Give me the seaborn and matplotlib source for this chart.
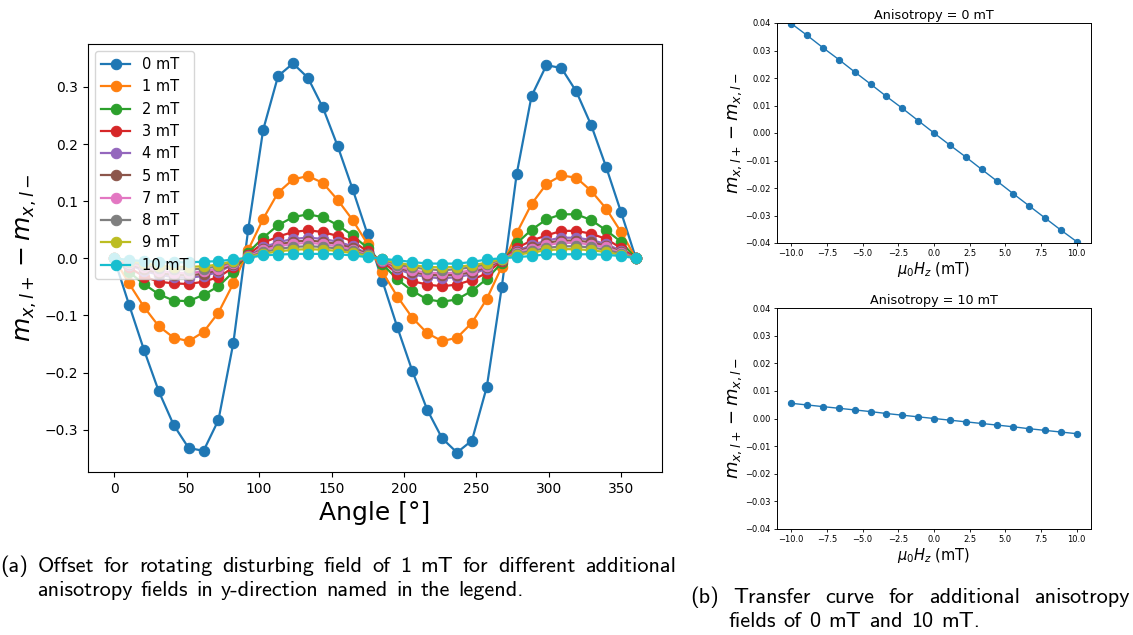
import numpy as np
import pandas as pd
import matplotlib
matplotlib.use("Agg")
import matplotlib.pyplot as plt
import seaborn as sns

# ---------------------------------------------------------------- data
# rotation angle of the 1 mT disturbing field (36 steps, 0..360 deg)
angles = np.linspace(0, 360, 36)

field_labels = ["0 mT", "1 mT", "2 mT", "3 mT", "4 mT",
                "5 mT", "7 mT", "8 mT", "9 mT", "10 mT"]

offset_0mT = [0.000, -0.081, -0.160, -0.233, -0.292, -0.332, -0.337, -0.283, -0.148,
              0.051, 0.225, 0.319, 0.341, 0.316, 0.264, 0.196, 0.121, 0.042,
              -0.040, -0.121, -0.197, -0.265, -0.315, -0.340, -0.319, -0.225, -0.051,
              0.147, 0.284, 0.338, 0.333, 0.292, 0.233, 0.160, 0.081, 0.000]
offset_1mT = [0.000, -0.044, -0.085, -0.119, -0.139, -0.145, -0.129, -0.095, -0.044,
              0.015, 0.069, 0.115, 0.138, 0.144, 0.132, 0.102, 0.067, 0.025,
              -0.024, -0.067, -0.104, -0.131, -0.145, -0.139, -0.113, -0.071, -0.015,
              0.044, 0.095, 0.130, 0.145, 0.141, 0.118, 0.087, 0.046, 0.000]
offset_2mT = [0.000, -0.024, -0.045, -0.063, -0.074, -0.075, -0.064, -0.049, -0.024,
              0.010, 0.036, 0.058, 0.072, 0.077, 0.072, 0.058, 0.040, 0.018,
              -0.010, -0.037, -0.057, -0.072, -0.076, -0.072, -0.057, -0.036, -0.008,
              0.026, 0.050, 0.068, 0.077, 0.077, 0.067, 0.049, 0.029, 0.000]
offset_3mT = [0.000, -0.016, -0.032, -0.041, -0.044, -0.045, -0.041, -0.033, -0.016,
              0.006, 0.027, 0.038, 0.046, 0.049, 0.046, 0.039, 0.030, 0.012,
              -0.006, -0.027, -0.040, -0.046, -0.049, -0.046, -0.038, -0.026, -0.004,
              0.018, 0.031, 0.040, 0.048, 0.048, 0.043, 0.034, 0.018, 0.000]
offset_4mT = [0.000, -0.011, -0.022, -0.029, -0.033, -0.034, -0.031, -0.024, -0.011,
              0.004, 0.019, 0.028, 0.034, 0.036, 0.034, 0.029, 0.021, 0.008,
              -0.004, -0.019, -0.028, -0.033, -0.035, -0.033, -0.028, -0.018, -0.003,
              0.013, 0.023, 0.031, 0.036, 0.036, 0.032, 0.025, 0.013, 0.000]
offset_5mT = [0.000, -0.010, -0.019, -0.026, -0.029, -0.030, -0.027, -0.021, -0.010,
              0.003, 0.016, 0.024, 0.029, 0.031, 0.029, 0.025, 0.018, 0.007,
              -0.003, -0.016, -0.024, -0.029, -0.030, -0.029, -0.024, -0.016, -0.003,
              0.011, 0.020, 0.027, 0.031, 0.031, 0.028, 0.022, 0.011, 0.000]
offset_7mT = [0.000, -0.008, -0.016, -0.022, -0.025, -0.026, -0.023, -0.018, -0.008,
              0.003, 0.014, 0.021, 0.025, 0.027, 0.025, 0.021, 0.015, 0.006,
              -0.003, -0.014, -0.021, -0.025, -0.026, -0.025, -0.021, -0.013, -0.002,
              0.010, 0.017, 0.023, 0.027, 0.027, 0.024, 0.019, 0.010, 0.000]
offset_8mT = [0.000, -0.006, -0.012, -0.017, -0.019, -0.020, -0.018, -0.014, -0.006,
              0.002, 0.011, 0.016, 0.020, 0.021, 0.020, 0.017, 0.012, 0.005,
              -0.002, -0.011, -0.016, -0.019, -0.021, -0.019, -0.016, -0.010, -0.002,
              0.008, 0.013, 0.018, 0.021, 0.021, 0.019, 0.015, 0.008, 0.000]
offset_9mT = [0.000, -0.005, -0.009, -0.013, -0.015, -0.015, -0.014, -0.011, -0.005,
              0.002, 0.008, 0.012, 0.015, 0.016, 0.015, 0.013, 0.009, 0.004,
              -0.002, -0.008, -0.012, -0.015, -0.016, -0.015, -0.012, -0.008, -0.001,
              0.006, 0.010, 0.014, 0.016, 0.016, 0.014, 0.011, 0.006, 0.000]
offset_10mT = [0.000, -0.003, -0.005, -0.006, -0.007, -0.007, -0.006, -0.005, -0.002,
               0.001, 0.005, 0.0065, 0.0075, 0.0078, 0.0076, 0.007, 0.005, 0.002,
               -0.001, -0.0035, -0.0065, -0.0092, -0.0093, -0.0093, -0.0065, -0.002, 0.000,
               0.002, 0.004, 0.007, 0.007, 0.007, 0.007, 0.006, 0.004, 0.000]

offsets = [offset_0mT, offset_1mT, offset_2mT, offset_3mT, offset_4mT,
           offset_5mT, offset_7mT, offset_8mT, offset_9mT, offset_10mT]

# transfer curves: out-of-plane field vs. offset
hz = np.linspace(-10, 10, 19)
transfer_0mT = [0.0398, 0.0355, 0.0310, 0.0267, 0.0222, 0.0178, 0.0133, 0.0090, 0.0045,
                0.0000, -0.0044, -0.0087, -0.0132, -0.0176, -0.0221, -0.0265, -0.0309,
                -0.0353, -0.0395]
transfer_10mT = [0.0055, 0.0049, 0.0043, 0.0037, 0.0031, 0.0025, 0.0018, 0.0012, 0.0006,
                 0.0000, -0.0006, -0.0012, -0.0018, -0.0024, -0.0030, -0.0037, -0.0043,
                 -0.0049, -0.0055]

# ---------------------------------------------------------------- figure
W, H = 1133, 635
fig = plt.figure(figsize=(W / 100, H / 100), dpi=100)
palette = sns.color_palette("tab10", 10)


def px_box(x0, y0, x1, y1):
    """axes rectangle from pixel corners (top-left origin)"""
    return [x0 / W, 1 - y1 / H, (x1 - x0) / W, (y1 - y0) / H]


# (a) offset vs. rotation angle
ax_a = fig.add_axes(px_box(88, 44, 662, 472))
for lab, vals, col in zip(field_labels, offsets, palette):
    df = pd.DataFrame({"angle": angles, "offset": vals})
    sns.lineplot(data=df, x="angle", y="offset", ax=ax_a, color=col, label=lab,
                 marker="o", markersize=7.5, markeredgecolor="auto",
                 linewidth=1.6, sort=False)
ax_a.set_xticks([0, 50, 100, 150, 200, 250, 300, 350])
ax_a.set_yticks([-0.3, -0.2, -0.1, 0.0, 0.1, 0.2, 0.3])
ax_a.tick_params(labelsize=10)
ax_a.set_xlabel("Angle [°]", fontsize=18)
ax_a.set_ylabel(r"$m_{x,l+} - m_{x,l-}$", fontsize=18)
ax_a.legend(loc="upper left", fontsize=10.5)


# (b) transfer curves
def transfer_panel(box, values, title):
    ax = fig.add_axes(box)
    df = pd.DataFrame({"hz": hz, "offset": values})
    sns.lineplot(data=df, x="hz", y="offset", ax=ax, color=palette[0],
                 marker="o", markersize=4.5, markeredgecolor="auto",
                 linewidth=1.0, sort=False)
    ax.set_ylim(-0.04, 0.04)
    ax.set_yticks([-0.04, -0.03, -0.02, -0.01, 0.0, 0.01, 0.02, 0.03, 0.04])
    ax.set_xticks([-10.0, -7.5, -5.0, -2.5, 0.0, 2.5, 5.0, 7.5, 10.0])
    ax.tick_params(labelsize=6, length=2.5, width=0.6, pad=2)
    for s in ax.spines.values():
        s.set_linewidth(0.7)
    ax.set_title(title, fontsize=9.2, pad=3)
    ax.set_xlabel(r"$\mu_0H_z$ (mT)", fontsize=10.5, labelpad=1)
    ax.set_ylabel(r"$m_{x,l+} - m_{x,l-}$", fontsize=13, labelpad=1)
    return ax


transfer_panel(px_box(777, 23, 1091, 243), transfer_0mT, "Anisotropy = 0 mT")
transfer_panel(px_box(777, 308, 1091, 529), transfer_10mT, "Anisotropy = 10 mT")

# ---------------------------------------------------------------- captions
renderer = fig.canvas.get_renderer()
CAP = dict(fontsize=16, family="cmss10", va="baseline", ha="left")


def caption_line(text, x0, y, x1=None, space=8.0):
    """write a caption line word by word; stretch it to x1 when given"""
    words = text.split()
    objs = [fig.text(0, 1 - y / H, w, **CAP) for w in words]
    widths = [o.get_window_extent(renderer).width for o in objs]
    gap = space if x1 is None else (x1 - x0 - sum(widths)) / (len(words) - 1)
    x = x0
    for o, w in zip(objs, widths):
        o.set_x(x / W)
        x += w + gap


caption_line("(a) Offset for rotating disturbing field of 1 mT for different additional",
             0, 572, x1=676)
caption_line("anisotropy fields in y-direction named in the legend.", 37, 596)
caption_line("(b) Transfer curve for additional anisotropy", 690, 603, x1=1130)
caption_line("fields of 0 mT and 10 mT.", 728, 627)

fig.savefig("out.png", dpi=100)
